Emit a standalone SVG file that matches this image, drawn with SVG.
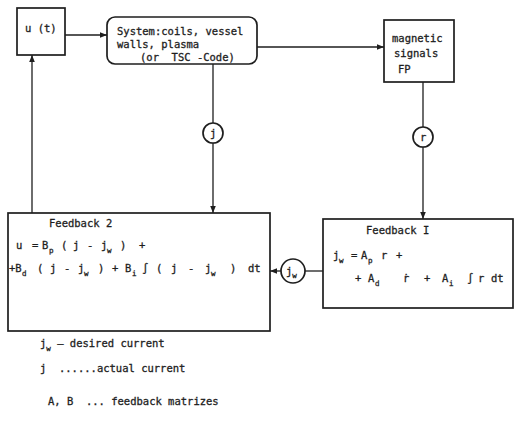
<svg xmlns="http://www.w3.org/2000/svg" width="516" height="424" viewBox="0 0 516 424">
<defs>
<marker id="ah" viewBox="0 0 10 10" refX="10" refY="5" markerWidth="7" markerHeight="7" orient="auto" markerUnits="userSpaceOnUse"><path d="M0,1 L10,5 L0,9 z" fill="#1e1e1e"/></marker>
<style>
.box{fill:none;stroke:#1e1e1e;stroke-width:1.7}
.ln{fill:none;stroke:#1e1e1e;stroke-width:1.3}
.t{font-family:"DejaVu Sans Mono","Liberation Mono",monospace;font-size:10.5px;fill:#1e1e1e;stroke:#1e1e1e;stroke-width:0.3;white-space:pre}
.s{font-size:7.5px}
</style>
</defs>
<rect width="516" height="424" fill="#fff"/>
<g id="connectors">
<line class="ln" x1="65" y1="35" x2="107" y2="35" marker-end="url(#ah)"/>
<line class="ln" x1="257" y1="47" x2="384" y2="47" marker-end="url(#ah)"/>
<line class="ln" x1="213" y1="64" x2="213" y2="123"/>
<line class="ln" x1="213" y1="143" x2="213" y2="213" marker-end="url(#ah)"/>
<line class="ln" x1="423" y1="82" x2="423" y2="127"/>
<line class="ln" x1="423" y1="147" x2="423" y2="219" marker-end="url(#ah)"/>
<line class="ln" x1="323" y1="271" x2="305" y2="271"/>
<line class="ln" x1="281" y1="271" x2="270" y2="271" marker-end="url(#ah)"/>
<line class="ln" x1="32" y1="213" x2="32" y2="55" marker-end="url(#ah)"/>
</g>
<g id="ut">
<rect class="box" x="17" y="8" width="48" height="47"/>
<text class="t" x="25" y="32">u (t)</text>
</g>
<g id="system">
<rect class="box" x="107" y="17" width="150" height="47" rx="8"/>
<text class="t" x="117" y="35">System:coils, vessel</text>
<text class="t" x="117" y="48">walls, plasma</text>
<text class="t" x="140" y="61">(or  TSC -Code)</text>
</g>
<g id="magnetic">
<rect class="box" x="384" y="20" width="70" height="62"/>
<text class="t" x="392" y="42">magnetic</text>
<text class="t" x="394" y="57">signals</text>
<text class="t" x="398" y="73">FP</text>
</g>
<g id="j">
<circle class="box" cx="213" cy="133" r="10"/>
<text class="t" x="210" y="137">j</text>
</g>
<g id="r">
<circle class="box" cx="423" cy="137" r="10"/>
<text class="t" x="420" y="141">r</text>
</g>
<g id="jw">
<circle class="box" cx="293" cy="271" r="12"/>
<text class="t" x="286" y="275">j<tspan class="s" dy="3">w</tspan></text>
</g>
<g id="feedback2">
<rect class="box" x="8" y="213" width="262" height="118"/>
<text class="t" x="49" y="227">Feedback 2</text>
<text class="t" y="249"><tspan x="16">u</tspan><tspan x="32">=</tspan><tspan x="42">B</tspan><tspan class="s" x="49" dy="4">p</tspan><tspan x="61" dy="-4">(</tspan><tspan x="73">j</tspan><tspan x="87">-</tspan><tspan x="101">j</tspan><tspan class="s" x="107" dy="4">w</tspan><tspan x="120" dy="-4">)</tspan><tspan x="139">+</tspan></text>
<text class="t" y="272"><tspan x="9">+B</tspan><tspan class="s" x="22" dy="4">d</tspan><tspan x="37" dy="-4">(</tspan><tspan x="50">j</tspan><tspan x="64">-</tspan><tspan x="78">j</tspan><tspan class="s" x="84" dy="4">w</tspan><tspan x="98" dy="-4">)</tspan><tspan x="112">+</tspan><tspan x="125">B</tspan><tspan class="s" x="132" dy="4">i</tspan><tspan x="142" dy="-4">∫</tspan><tspan x="156">(</tspan><tspan x="171">j</tspan><tspan x="188">-</tspan><tspan x="205">j</tspan><tspan class="s" x="211" dy="4">w</tspan><tspan x="230" dy="-4">)</tspan><tspan x="248">dt</tspan></text>
</g>
<g id="feedback1">
<rect class="box" x="323" y="219" width="190" height="89"/>
<text class="t" x="366" y="234">Feedback I</text>
<text class="t" y="259"><tspan x="333">j</tspan><tspan class="s" x="339" dy="4">w</tspan><tspan x="351" dy="-4">=</tspan><tspan x="361">A</tspan><tspan class="s" x="368" dy="4">p</tspan><tspan x="381" dy="-4">r</tspan><tspan x="396">+</tspan></text>
<text class="t" y="282"><tspan x="355">+</tspan><tspan x="368">A</tspan><tspan class="s" x="375" dy="4">d</tspan><tspan x="403" dy="-4">ṙ</tspan><tspan x="424">+</tspan><tspan x="442">A</tspan><tspan class="s" x="449" dy="4">i</tspan><tspan x="467" dy="-4">∫</tspan><tspan x="478">r</tspan><tspan x="491">dt</tspan></text>
</g>
<g id="legend">
<text class="t" x="40" y="347">j<tspan class="s" dy="4">w</tspan><tspan dy="-4"> — desired current</tspan></text>
<text class="t" x="40" y="372">j  ......actual current</text>
<text class="t" x="48" y="405">A, B  ... feedback matrizes</text>
</g>
</svg>
